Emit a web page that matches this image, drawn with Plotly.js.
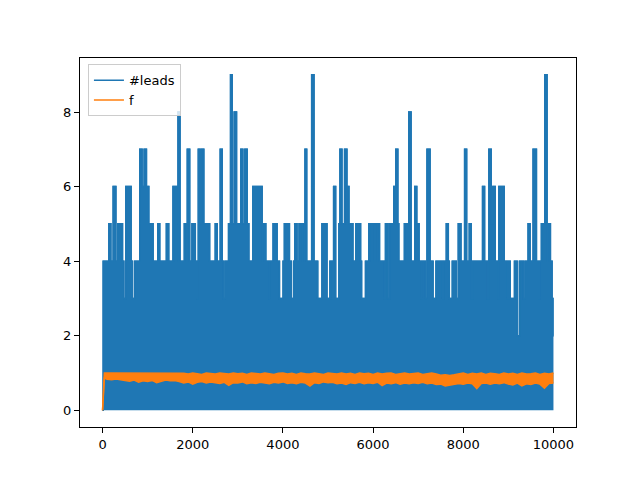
<!DOCTYPE html>
<html>
<head>
<meta charset="utf-8">
<script src="https://cdn.plot.ly/plotly-3.0.1.min.js"></script>
<style>
  html, body { margin: 0; padding: 0; background: #fff; }
  #chart { width: 640px; height: 480px; }
</style>
</head>
<body>
<div id="chart"></div>
<script>
var leadsX = [0, 15, 140, 184, 236, 295, 339, 442, 472, 516, 634, 664, 715, 826, 877, 922, 973,
  1025, 1121, 1224, 1268, 1416, 1467, 1563, 1615, 1644, 1674, 1718, 1814, 1880, 1932, 1983,
  2057, 2094, 2116, 2124, 2165, 2200, 2245, 2374, 2500, 2544, 2610, 2654, 2684, 2721, 2795,
  2839, 2876, 2920, 2971, 3067, 3112, 3156, 3207, 3244, 3333, 3539, 3561, 3620, 3687, 3709,
  3783, 3871, 3923, 4004, 4033, 4144, 4188, 4240, 4262, 4313, 4358, 4424, 4446, 4490, 4527,
  4638, 4689, 4771, 4866, 4977, 5043, 5102, 5125, 5169, 5242, 5265, 5309, 5368, 5419, 5464,
  5552, 5618, 5663, 5685, 5722, 5744, 5832, 5906, 5965, 5995, 6083, 6105, 6142, 6253, 6275,
  6326, 6363, 6459, 6503, 6548, 6570, 6695, 6791, 6842, 6924, 6968, 7019, 7064, 7086, 7159,
  7196, 7263, 7329, 7395, 7543, 7565, 7624, 7668, 7690, 7757, 7845, 7890, 7948, 8030, 8074,
  8133, 8177, 8207, 8428, 8472, 8538, 8568, 8619, 8656, 8708, 8767, 8789, 8907, 8981, 9010,
  9040, 9136, 9195, 9246, 9335, 9372, 9438, 9482, 9549, 9622, 9674, 9689, 9733, 9807, 9858,
  9880, 9932, 9969, 9988, 10000];
var leadsY = [0, 4, 5, 4, 6, 4, 5, 4, 3, 6, 4, 3, 4, 7, 6, 7, 6,
  5, 4, 5, 4, 5, 4, 6, 4, 6, 8, 4, 5, 7, 4, 5,
  4, 3, 4, 7, 5, 7, 5, 4, 5, 4, 7, 4, 3, 4, 5,
  9, 5, 8, 5, 7, 5, 7, 5, 4, 6, 4, 5, 4, 3, 4,
  5, 4, 3, 4, 5, 4, 3, 4, 5, 4, 5, 4, 5, 7, 4,
  9, 4, 3, 5, 3, 4, 3, 6, 3, 5, 7, 5, 7, 6, 5,
  4, 5, 4, 5, 4, 3, 4, 5, 4, 5, 4, 5, 4, 3, 5,
  3, 5, 6, 7, 5, 4, 5, 8, 4, 6, 5, 4, 3, 4, 3,
  7, 4, 3, 4, 3, 4, 5, 4, 3, 4, 3, 5, 4, 7, 4,
  5, 3, 4, 6, 4, 3, 7, 5, 6, 4, 3, 6, 4, 3, 4,
  3, 4, 2, 4, 3, 4, 5, 4, 7, 4, 3, 4, 5, 9, 4,
  5, 4, 3, 2, 2];

// f, read as the top and bottom edge of the orange band
var fX = [0, 40, 100, 200, 300, 400, 500, 600, 700, 800, 900, 1000, 1100, 1200, 1300, 1400,
  1500, 1600, 1700, 1800, 1900, 2000, 2100, 2200, 2300, 2400, 2500, 2600, 2700, 2800, 2900,
  3000, 3100, 3200, 3300, 3400, 3500, 3600, 3700, 3800, 3900, 4000, 4100, 4200, 4300, 4400,
  4500, 4600, 4700, 4800, 4900, 5000, 5100, 5200, 5300, 5400, 5500, 5600, 5700, 5800, 5900,
  6000, 6100, 6200, 6300, 6400, 6500, 6600, 6700, 6800, 6900, 7000, 7100, 7200, 7300, 7400,
  7500, 7600, 7700, 7800, 7900, 8000, 8100, 8200, 8300, 8400, 8500, 8600, 8700, 8800, 8900,
  9000, 9100, 9200, 9300, 9400, 9500, 9600, 9700, 9800, 9900, 10000];
var fHigh = [0, 1.0,
  1.0, 1.0, 1.0, 1.0, 1.0, 1.0, 1.0, 1.0, 1.0, 1.0, 1.0, 1.0, 1.0, 1.0, 1.0, 1.0, 1.0,
  0.99, 0.97, 1.0, 0.98, 0.96, 1.0, 0.99, 0.97, 1.0, 0.98,
  0.97, 1.0, 0.98, 0.99, 0.96, 1.0, 0.98, 0.97, 1.0, 0.99,
  0.96, 0.99, 1.0, 0.97, 0.99, 0.96, 1.0, 0.98, 0.97, 1.0,
  0.98, 0.96, 1.0, 0.99, 0.97, 1.0, 0.97, 0.99, 0.96, 1.0,
  0.98, 0.99, 0.96, 1.0, 0.97, 0.99, 1.0, 0.96, 0.98, 1.0,
  0.97, 0.99, 1.0, 0.96, 0.98, 1.0, 0.97, 0.94, 0.95, 0.93,
  0.95, 0.98, 1.0, 0.96, 0.99, 0.97, 1.0, 0.96, 0.99, 0.98,
  0.96, 1.0, 0.97, 0.99, 0.96, 1.0, 0.97, 0.98, 1.0, 0.96,
  0.99, 0.97, 1.0];
var fLow = [0, 0.86,
  0.83, 0.82, 0.84, 0.81, 0.80, 0.78, 0.81, 0.75, 0.79, 0.77, 0.80, 0.74,
  0.78, 0.81, 0.79, 0.80, 0.77,
  0.73, 0.76, 0.70, 0.75, 0.77, 0.73, 0.76, 0.74, 0.72, 0.75,
  0.67, 0.74, 0.73, 0.76, 0.71, 0.74, 0.72, 0.75, 0.73, 0.71,
  0.75, 0.73, 0.76, 0.72, 0.74, 0.71, 0.75, 0.73, 0.65, 0.74,
  0.72, 0.76, 0.74, 0.75, 0.71, 0.73, 0.69, 0.74, 0.72, 0.75,
  0.71, 0.74, 0.72, 0.75, 0.66, 0.73, 0.71, 0.74, 0.70, 0.73,
  0.71, 0.74, 0.72, 0.75, 0.71, 0.73, 0.69, 0.70, 0.65, 0.68,
  0.69, 0.72, 0.70, 0.73, 0.71, 0.58, 0.72, 0.73, 0.70, 0.73,
  0.71, 0.74, 0.70, 0.68, 0.73, 0.65, 0.71, 0.69, 0.73, 0.70,
  0.59, 0.72, 0.73];

var xTicks = [0, 2000, 4000, 6000, 8000, 10000];
var yTicks = [0, 2, 4, 6, 8];

var blue = '#1f77b4';
var orange = '#ff7f0e';

var data = [
  { // solid body of the blue series
    x: leadsX, y: leadsY, type: 'scatter', mode: 'lines',
    line: {shape: 'hv', color: blue, width: 1.5},
    fill: 'tozeroy', fillcolor: blue,
    showlegend: false, hoverinfo: 'skip'
  },
  {
    x: leadsX, y: leadsY, type: 'scatter', mode: 'lines', name: '#leads',
    line: {shape: 'hv', color: blue, width: 1.5}
  },
  {
    x: fX, y: fLow, type: 'scatter', mode: 'lines', name: 'f',
    line: {color: orange, width: 1.5}
  },
  {
    x: fX, y: fHigh, type: 'scatter', mode: 'lines',
    line: {color: orange, width: 1.5},
    fill: 'tonexty', fillcolor: orange,
    showlegend: false
  }
];

var axisStyle = {
  showgrid: false, zeroline: false,
  showline: true, mirror: true, linecolor: '#000', linewidth: 1,
  ticks: 'outside', ticklen: 5, tickwidth: 1, tickcolor: '#000',
  tickfont: {family: 'DejaVu Sans', size: 13, color: '#000'}
};

var layout = {
  width: 640, height: 480,
  margin: {l: 80, r: 64, t: 58, b: 53},
  paper_bgcolor: '#fff', plot_bgcolor: '#fff',
  font: {family: 'DejaVu Sans', size: 13, color: '#000'},
  xaxis: Object.assign({}, axisStyle, {range: [-500, 10500], tickvals: xTicks, ticktext: xTicks.map(String)}),
  yaxis: Object.assign({}, axisStyle, {range: [-0.45, 9.45], tickvals: yTicks, ticktext: yTicks.map(String)}),
  showlegend: true,
  legend: {
    x: 0.016, y: 0.983, xanchor: 'left', yanchor: 'top', traceorder: 'normal',
    bgcolor: 'rgba(255,255,255,0.8)', bordercolor: '#cccccc', borderwidth: 1,
    font: {family: 'DejaVu Sans', size: 13, color: '#000'}
  }
};

Plotly.newPlot('chart', data, layout, {staticPlot: true});
</script>
</body>
</html>
